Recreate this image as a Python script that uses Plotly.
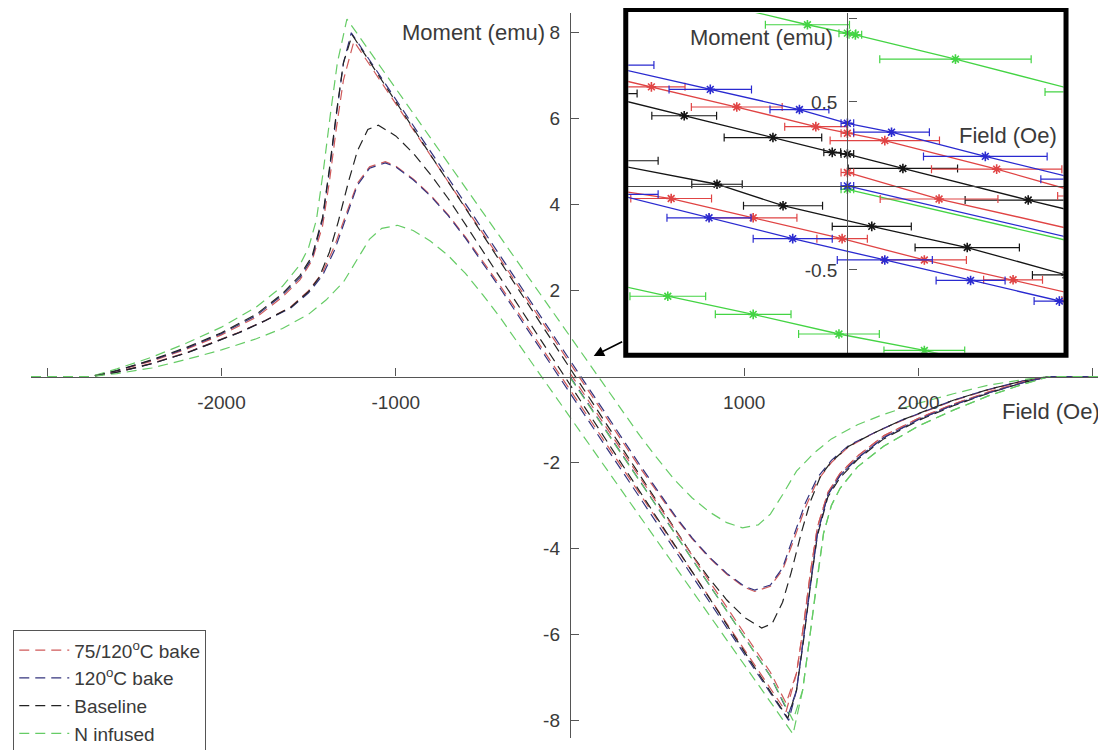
import plotly.graph_objects as go

# ---------------- main plot data (Field in Oe, Moment in emu) ----------------
red_up_x = [-3093, -2750, -2600, -2400, -2200, -2000, -1800, -1650, -1550, -1480, -1420, -1380, -1340, -1300, -1240, -1150, -1000, -800, -600, -400, -200, 0, 200, 400, 600, 700, 800, 900, 1000, 1060, 1150, 1220, 1280, 1350, 1420, 1500, 1600, 1750, 1900, 2050, 2200, 2400, 2600, 2750, 3076]
red_up_y = [0, 0, 0.13, 0.36, 0.64, 0.97, 1.38, 1.85, 2.25, 2.7, 3.5, 4.55, 5.8, 6.9, 7.8, 7.26, 6.35, 5.14, 3.93, 2.73, 1.52, 0.31, -0.9, -2.11, -3.25, -3.77, -4.22, -4.6, -4.9, -5.0, -4.88, -4.5, -3.85, -3.05, -2.42, -2.0, -1.63, -1.3, -1.03, -0.79, -0.56, -0.31, -0.1, 0, 0]
red_dn_x = [-3093, -2750, -2600, -2400, -2200, -2050, -1900, -1750, -1600, -1500, -1420, -1350, -1280, -1220, -1150, -1060, -1000, -900, -800, -700, -600, -400, -200, 0, 200, 400, 600, 800, 1000, 1150, 1240, 1300, 1340, 1380, 1420, 1480, 1550, 1650, 1800, 2000, 2200, 2400, 2600, 2750, 3076]
red_dn_y = [0, 0, 0.1, 0.31, 0.56, 0.79, 1.03, 1.3, 1.63, 2.0, 2.42, 3.05, 3.85, 4.5, 4.88, 5.0, 4.9, 4.6, 4.22, 3.77, 3.25, 2.11, 0.9, -0.31, -1.52, -2.73, -3.93, -5.14, -6.35, -7.26, -7.8, -6.9, -5.8, -4.55, -3.5, -2.7, -2.25, -1.85, -1.38, -0.97, -0.64, -0.36, -0.13, 0, 0]
red_vg_x = [0, 200, 400, 600, 800, 1000, 1150, 1240, 1300, 1340, 1380, 1420, 1480, 1550, 1650, 1800, 2000, 2200, 2400, 2600, 2750, 3076]
red_vg_y = [0.08, -1.13, -2.34, -3.55, -4.76, -5.97, -6.88, -7.6, -6.9, -5.8, -4.55, -3.5, -2.7, -2.25, -1.85, -1.38, -0.97, -0.64, -0.36, -0.13, 0, 0]

blue_up_x = [-3093, -2750, -2600, -2400, -2200, -2000, -1800, -1650, -1550, -1480, -1420, -1380, -1340, -1300, -1255, -1150, -1000, -800, -600, -400, -200, 0, 200, 400, 600, 700, 800, 900, 1000, 1060, 1150, 1220, 1280, 1350, 1420, 1500, 1600, 1750, 1900, 2050, 2200, 2400, 2600, 2750, 3076]
blue_up_y = [0, 0, 0.14, 0.38, 0.66, 1.0, 1.42, 1.9, 2.3, 2.75, 3.65, 4.8, 6.1, 7.3, 8.0, 7.36, 6.45, 5.24, 4.02, 2.81, 1.59, 0.38, -0.83, -2.05, -3.22, -3.75, -4.2, -4.58, -4.88, -4.97, -4.85, -4.45, -3.75, -2.95, -2.35, -1.95, -1.6, -1.3, -1.02, -0.78, -0.55, -0.3, -0.1, 0, 0]
blue_dn_x = [-3093, -2750, -2600, -2400, -2200, -2050, -1900, -1750, -1600, -1500, -1420, -1350, -1280, -1220, -1150, -1060, -1000, -900, -800, -700, -600, -400, -200, 0, 200, 400, 600, 800, 1000, 1150, 1255, 1300, 1340, 1380, 1420, 1480, 1550, 1650, 1800, 2000, 2200, 2400, 2600, 2750, 3076]
blue_dn_y = [0, 0, 0.1, 0.3, 0.55, 0.78, 1.02, 1.3, 1.6, 1.95, 2.35, 2.95, 3.75, 4.45, 4.85, 4.97, 4.88, 4.58, 4.2, 3.75, 3.22, 2.05, 0.83, -0.38, -1.59, -2.81, -4.02, -5.24, -6.45, -7.36, -8.0, -7.3, -6.1, -4.8, -3.65, -2.75, -2.3, -1.9, -1.42, -1.0, -0.66, -0.38, -0.14, 0, 0]
blue_vg_x = [0, 200, 400, 600, 800, 1000, 1150, 1255, 1300, 1340, 1380, 1420, 1480, 1550, 1650, 1800, 2000, 2200, 2400, 2600, 2750, 3076]
blue_vg_y = [0.0, -1.21, -2.42, -3.64, -4.85, -6.06, -6.97, -7.85, -7.3, -6.1, -4.8, -3.65, -2.75, -2.3, -1.9, -1.42, -1.0, -0.66, -0.38, -0.14, 0, 0]

black_up_x = [-3093, -2750, -2600, -2400, -2200, -2000, -1800, -1650, -1550, -1480, -1420, -1380, -1340, -1300, -1250, -1150, -1000, -800, -600, -400, -200, 0, 200, 400, 600, 700, 800, 900, 1000, 1100, 1160, 1220, 1270, 1330, 1380, 1440, 1500, 1600, 1750, 1900, 2050, 2200, 2400, 2600, 2750, 3076]
black_up_y = [0, 0, 0.14, 0.39, 0.68, 1.02, 1.45, 1.93, 2.35, 2.8, 3.7, 4.85, 6.15, 7.3, 7.95, 7.33, 6.4, 5.16, 3.92, 2.67, 1.43, 0.19, -1.05, -2.29, -3.54, -4.15, -4.7, -5.2, -5.6, -5.85, -5.75, -5.25, -4.55, -3.6, -2.9, -2.3, -1.98, -1.62, -1.3, -1.02, -0.78, -0.55, -0.3, -0.1, 0, 0]
black_dn_x = [-3093, -2750, -2600, -2400, -2200, -2050, -1900, -1750, -1600, -1500, -1440, -1380, -1330, -1270, -1220, -1160, -1100, -1000, -900, -800, -700, -600, -400, -200, 0, 200, 400, 600, 800, 1000, 1150, 1250, 1300, 1340, 1380, 1420, 1480, 1550, 1650, 1800, 2000, 2200, 2400, 2600, 2750, 3076]
black_dn_y = [0, 0, 0.1, 0.3, 0.55, 0.78, 1.02, 1.3, 1.62, 1.98, 2.3, 2.9, 3.6, 4.55, 5.25, 5.75, 5.85, 5.6, 5.2, 4.7, 4.15, 3.54, 2.29, 1.05, -0.19, -1.43, -2.67, -3.92, -5.16, -6.4, -7.33, -7.95, -7.3, -6.15, -4.85, -3.7, -2.8, -2.35, -1.93, -1.45, -1.02, -0.68, -0.39, -0.14, 0, 0]

green_up_x = [-3093, -2750, -2600, -2400, -2200, -2000, -1800, -1650, -1550, -1500, -1455, -1415, -1375, -1335, -1280, -1150, -1000, -800, -600, -400, -200, 0, 200, 400, 500, 600, 700, 800, 900, 990, 1080, 1150, 1220, 1300, 1400, 1500, 1650, 1800, 2000, 2200, 2400, 2600, 2750, 3076]
green_up_y = [0, 0, 0.18, 0.45, 0.78, 1.15, 1.62, 2.1, 2.6, 3.0, 3.65, 4.8, 6.1, 7.3, 8.32, 7.57, 6.71, 5.55, 4.4, 3.25, 2.09, 0.94, -0.21, -1.37, -1.9, -2.4, -2.82, -3.15, -3.4, -3.52, -3.45, -3.2, -2.75, -2.2, -1.78, -1.45, -1.12, -0.88, -0.62, -0.4, -0.2, -0.07, 0, 0]
green_dn_x = [-3093, -2750, -2600, -2400, -2200, -2000, -1800, -1650, -1500, -1400, -1300, -1220, -1150, -1080, -990, -900, -800, -700, -600, -500, -400, -200, 0, 200, 400, 600, 800, 1000, 1150, 1280, 1335, 1375, 1415, 1455, 1500, 1550, 1650, 1800, 2000, 2200, 2400, 2600, 2750, 3076]
green_dn_y = [0, 0, 0.07, 0.2, 0.4, 0.62, 0.88, 1.12, 1.45, 1.78, 2.2, 2.75, 3.2, 3.45, 3.52, 3.4, 3.15, 2.82, 2.4, 1.9, 1.37, 0.21, -0.94, -2.09, -3.25, -4.4, -5.55, -6.71, -7.57, -8.32, -7.3, -6.1, -4.8, -3.65, -3.0, -2.6, -2.1, -1.62, -1.15, -0.78, -0.45, -0.18, 0, 0]
green_vg_x = [0, 200, 400, 600, 800, 1000, 1150, 1280, 1335, 1375, 1415, 1455, 1500, 1550, 1650, 1800, 2000, 2200, 2400, 2600, 2750, 3076]
green_vg_y = [-0.02, -1.22, -2.43, -3.64, -4.85, -6.06, -6.97, -8.0, -7.3, -6.1, -4.8, -3.65, -3.0, -2.6, -2.1, -1.62, -1.15, -0.78, -0.45, -0.18, 0, 0]

series_names = ["75/120<sup>o</sup>C bake", "120<sup>o</sup>C bake", "Baseline", "N infused"]

x_tickvals = [-3000, -2000, -1000, 1000, 2000, 3000]
x_ticktext = ["", "-2000", "-1000", "1000", "2000", ""]
y_tickvals = [-8, -6, -4, -2, 2, 4, 6, 8]
y_ticktext = ["-8", "-6", "-4", "-2", "2", "4", "6", "8"]

# ---------------- inset data (Field in Oe, Moment in emu, field error in Oe) ----------------
in_green_hi_x = [-33, -9.5, 0, 1.9, 25.7, 56]
in_green_hi_y = [1.10, 0.96, 0.91, 0.90, 0.755, 0.56]
in_green_hi_e = [10, 10, 2, 1.5, 18, 9]
in_blue_hi_x = [-58, -32.6, -11.4, 0, 10.5, 32.8, 55]
in_blue_hi_y = [0.72, 0.575, 0.455, 0.373, 0.32, 0.176, 0.04]
in_blue_hi_e = [12, 9.8, 7, 1.5, 9, 14.7, 9]
in_red_hi_x = [-62, -46.6, -26.3, -7.5, 0, 8.9, 35.5, 58]
in_red_hi_y = [0.68, 0.59, 0.47, 0.353, 0.314, 0.27, 0.10, -0.06]
in_red_hi_e = [9, 8, 10.8, 7.4, 1.5, 13, 15.5, 8]
in_black_hi_x = [-60, -38.8, -17.7, -3.6, 0, 13.2, 43, 62]
in_black_hi_y = [0.55, 0.418, 0.288, 0.2, 0.19, 0.104, -0.084, -0.2]
in_black_hi_e = [10, 7.7, 11.6, 2, 1.5, 13, 15, 8]
in_black_lo_x = [-60, -31, -15.3, 5.8, 28.5, 52]
in_black_lo_y = [0.15, 0.01, -0.118, -0.241, -0.367, -0.53]
in_black_lo_e = [15, 6, 9.4, 9.4, 12.4, 8]
in_red_lo_x = [-62, -41.9, -22.4, -1.25, 18.3, 39.4, 60]
in_red_lo_y = [0.0, -0.075, -0.19, -0.314, -0.441, -0.559, -0.68]
in_red_lo_e = [9, 9.6, 10.4, 6, 10, 7, 9]
in_blue_lo_x = [-55, -32.9, -13, 8.9, 29.3, 50.4, 70]
in_blue_lo_y = [-0.05, -0.19, -0.314, -0.441, -0.563, -0.686, -0.8]
in_blue_lo_e = [10, 10, 9.4, 11.3, 8.2, 6, 8]
in_green_lo_x = [-62, -42.7, -22.4, -2, 18.3, 40]
in_green_lo_y = [-0.55, -0.657, -0.765, -0.882, -0.98, -1.1]
in_green_lo_e = [9, 9, 9, 9.6, 9.6, 9]
in_red_vg_x = [0, 21.8, 66]
in_red_vg_y = [0.08, -0.078, -0.33]
in_red_vg_e = [1.5, 14, 10]
in_blue_vg_x = [0, 60]
in_blue_vg_y = [0.0, -0.35]
in_blue_vg_e = [1.5, 8]
in_green_vg_x = [0, 60]
in_green_vg_y = [-0.02, -0.37]
in_green_vg_e = [1.5, 8]

in_y_tickvals = [-0.5, 0.5, 1.0]
in_y_ticktext = ["-0.5", "0.5", ""]

# ---------------- styling ----------------
FONT = "Arial, Liberation Sans, sans-serif"
TXT = "#3a3a3a"
C_RED, C_BLUE, C_BLACK, C_GREEN = "#cf5a5a", "#34347e", "#232323", "#66cc66"
CI_RED, CI_BLUE, CI_BLACK, CI_GREEN = "#e04444", "#2a2ad0", "#151515", "#44d444"

X_RANGE = [-3093, 3076]
Y_RANGE = [-8.41, 8.46]
IX_RANGE = [-52.1, 51.4]
IY_RANGE = [-0.994, 1.03]
IX_DOM = [0.5556, 0.9605]
IY_DOM = [0.5313, 1.0]

fig = go.Figure()


def main_line(x, y, color, name=None, show=False, group=None):
    fig.add_trace(go.Scatter(
        x=x, y=y, mode="lines", name=name, showlegend=show, legendgroup=group,
        line=dict(color=color, width=1.2, dash="10px,6px"), hoverinfo="skip"))


main_line(red_up_x, red_up_y, C_RED, series_names[0], True, "r")
main_line(blue_up_x, blue_up_y, C_BLUE, series_names[1], True, "b")
main_line(black_up_x, black_up_y, C_BLACK, series_names[2], True, "k")
main_line(green_up_x, green_up_y, C_GREEN, series_names[3], True, "g")
main_line(red_dn_x, red_dn_y, C_RED, group="r")
main_line(blue_dn_x, blue_dn_y, C_BLUE, group="b")
main_line(black_dn_x, black_dn_y, C_BLACK, group="k")
main_line(green_dn_x, green_dn_y, C_GREEN, group="g")
main_line(red_vg_x, red_vg_y, C_RED, group="r")
main_line(blue_vg_x, blue_vg_y, C_BLUE, group="b")
main_line(green_vg_x, green_vg_y, C_GREEN, group="g")


def inset_line(x, y, e, color):
    fig.add_trace(go.Scatter(
        x=x, y=y, mode="lines+markers", showlegend=False, xaxis="x2", yaxis="y2",
        line=dict(color=color, width=1.3),
        marker=dict(symbol="asterisk-open", size=8, color=color, line=dict(color=color, width=1.6)),
        error_x=dict(type="data", array=e, color=color, thickness=1.2, width=4),
        hoverinfo="skip"))


inset_line(in_green_hi_x, in_green_hi_y, in_green_hi_e, CI_GREEN)
inset_line(in_green_lo_x, in_green_lo_y, in_green_lo_e, CI_GREEN)
inset_line(in_green_vg_x, in_green_vg_y, in_green_vg_e, CI_GREEN)
inset_line(in_black_hi_x, in_black_hi_y, in_black_hi_e, CI_BLACK)
inset_line(in_black_lo_x, in_black_lo_y, in_black_lo_e, CI_BLACK)
inset_line(in_red_hi_x, in_red_hi_y, in_red_hi_e, CI_RED)
inset_line(in_red_lo_x, in_red_lo_y, in_red_lo_e, CI_RED)
inset_line(in_red_vg_x, in_red_vg_y, in_red_vg_e, CI_RED)
inset_line(in_blue_hi_x, in_blue_hi_y, in_blue_hi_e, CI_BLUE)
inset_line(in_blue_lo_x, in_blue_lo_y, in_blue_lo_e, CI_BLUE)
inset_line(in_blue_vg_x, in_blue_vg_y, in_blue_vg_e, CI_BLUE)

# axes crossing at the data origin
main_yaxis_pos = (0 - X_RANGE[0]) / (X_RANGE[1] - X_RANGE[0])
main_xaxis_pos = (0 - Y_RANGE[0]) / (Y_RANGE[1] - Y_RANGE[0])
in_yaxis_pos = IX_DOM[0] + (0 - IX_RANGE[0]) / (IX_RANGE[1] - IX_RANGE[0]) * (IX_DOM[1] - IX_DOM[0])
in_xaxis_pos = IY_DOM[0] + (0 - IY_RANGE[0]) / (IY_RANGE[1] - IY_RANGE[0]) * (IY_DOM[1] - IY_DOM[0])

axis_common = dict(showgrid=False, zeroline=False, showline=True, linecolor="#555555", linewidth=1.3,
                   ticks="inside", ticklen=8, tickwidth=1.2, tickcolor="#555555",
                   tickfont=dict(family=FONT, size=19, color=TXT))

# page body has an 8px default margin: shift the figure margins to compensate
fig.update_layout(
    width=1106, height=750,
    margin=dict(l=9, r=8, t=5, b=11),
    paper_bgcolor="white", plot_bgcolor="white",
    font=dict(family=FONT, color=TXT),
    xaxis=dict(range=X_RANGE, domain=[0, 1], anchor="free", position=main_xaxis_pos, side="bottom",
               tickvals=x_tickvals, ticktext=x_ticktext, ticklabelstandoff=8, **axis_common),
    yaxis=dict(range=Y_RANGE, domain=[0, 1], anchor="free", position=main_yaxis_pos, side="left",
               tickvals=y_tickvals, ticktext=y_ticktext, ticklabelstandoff=6, **axis_common),
    xaxis2=dict(range=IX_RANGE, domain=IX_DOM, anchor="free", position=in_xaxis_pos,
                showgrid=False, zeroline=False, showline=True, linecolor="#444444", linewidth=1.4,
                showticklabels=False, ticks=""),
    yaxis2=dict(range=IY_RANGE, domain=IY_DOM, anchor="free", position=in_yaxis_pos, side="left",
                tickvals=in_y_tickvals, ticktext=in_y_ticktext, ticklabelstandoff=6, **axis_common),
    legend=dict(x=-0.0165, y=0.1485, xanchor="left", yanchor="top", bgcolor="white",
                bordercolor="#555555", borderwidth=1, itemwidth=50,
                font=dict(family=FONT, size=19, color=TXT), tracegroupgap=0),
    showlegend=True,
)

fig.update_layout(shapes=[
    dict(type="rect", xref="paper", yref="paper",
         x0=(619.5 - 17) / 1089, x1=(1065.5 - 17) / 1089,
         y0=(747 - 359.5) / 734, y1=(747 - 9.5) / 734,
         line=dict(color="black", width=5), fillcolor="rgba(0,0,0,0)", layer="above"),
])


def label(text, px, py):
    return dict(text=text, xref="paper", yref="paper", x=(px - 17) / 1089, y=(747 - py) / 734,
                xanchor="center", yanchor="middle", showarrow=False,
                font=dict(family=FONT, size=22, color=TXT))


ann = [
    label("Moment (emu)", 465, 33),
    label("Field (Oe)", 1050, 416),
    label("Moment (emu)", 757, 38),
    label("Field (Oe)", 1007, 137),
    dict(text="", xref="x", yref="y", x=136, y=0.48, ax=30, ay=-15, showarrow=True,
         arrowhead=2, arrowsize=1.3, arrowwidth=1.6, arrowcolor="black"),
]
fig.update_layout(annotations=ann)

fig.write_html("out.html")
